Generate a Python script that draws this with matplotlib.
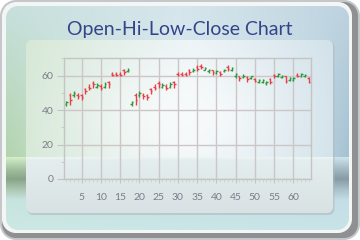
import numpy as np
import matplotlib.pyplot as plt
from matplotlib.ticker import MultipleLocator

# OHLC values
days = list(range(1, 65))
opens = [43.5, 49.0, 48.5, 49.0, 48.5, 52.0, 53.5, 55.5, 53.5, 54.0, 53.5, 56.0, 61.0, 61.0, 61.0, 63.0, 62.5,
         43.5, 49.0, 48.5, 49.0, 48.5, 52.0, 53.5, 55.5, 53.5, 54.0, 53.5, 56.0, 61.0, 61.0, 61.0, 63.0, 62.5,
         65.0, 65.5, 63.5, 62.5, 63.0, 61.5, 62.0, 62.5, 65.0, 63.5, 59.5, 59.5, 59.0, 59.0, 58.5, 58.0,
         56.5, 56.5, 55.5, 58.0, 60.5, 59.5, 59.0, 59.5, 57.5, 57.5, 60.5, 59.5, 59.5, 58.5]
highs = [45.5, 50.0, 51.0, 50.0, 49.5, 53.0, 55.0, 57.0, 55.5, 55.0, 56.0, 57.0, 62.0, 62.0, 62.0, 64.0, 64.5,
         45.5, 50.0, 51.0, 50.0, 49.5, 53.0, 55.0, 57.0, 55.5, 55.0, 56.0, 57.0, 62.0, 62.0, 62.0, 64.0, 64.5,
         66.0, 66.5, 65.0, 64.0, 63.5, 63.0, 62.5, 64.0, 66.0, 65.0, 61.5, 60.0, 61.0, 59.5, 60.0, 58.5,
         58.0, 58.0, 57.0, 58.5, 61.0, 61.5, 60.5, 60.0, 59.0, 59.0, 61.5, 61.5, 61.0, 59.0]
lows = [42.5, 43.0, 47.5, 46.5, 46.0, 49.5, 51.5, 53.0, 52.5, 51.5, 52.5, 53.0, 59.5, 59.5, 59.5, 60.5, 62.0,
        42.5, 43.0, 47.5, 46.5, 46.0, 49.5, 51.5, 53.0, 52.5, 51.5, 52.5, 53.0, 59.5, 59.5, 59.5, 60.5, 62.0,
        62.5, 64.0, 63.0, 61.5, 60.5, 61.0, 59.5, 62.0, 62.5, 62.5, 58.5, 57.0, 58.5, 56.5, 58.0, 56.0,
        55.5, 55.5, 54.5, 55.0, 58.5, 59.0, 58.5, 55.5, 57.0, 57.0, 59.0, 59.0, 59.0, 55.5]
closes = [44.5, 46.0, 50.0, 48.0, 47.5, 51.0, 53.0, 55.0, 54.5, 53.0, 55.0, 55.0, 60.5, 60.5, 60.5, 62.0, 63.5,
          44.5, 46.0, 50.0, 48.0, 47.5, 51.0, 53.0, 55.0, 54.5, 53.0, 55.0, 55.0, 60.5, 60.5, 60.5, 62.0, 63.5,
          64.0, 65.0, 64.5, 63.5, 62.0, 62.5, 61.0, 63.5, 64.0, 64.5, 61.0, 58.5, 60.0, 58.0, 59.5, 57.0,
          57.5, 57.5, 56.5, 56.5, 59.5, 61.0, 60.0, 57.0, 58.5, 58.5, 60.0, 61.0, 60.5, 56.5]

W, H = 360, 240
yy, xx = np.mgrid[0:H, 0:W] + 0.5


def rrect(x0, y0, x1, y1, r):
    cx, cy = (x0 + x1) / 2, (y0 + y1) / 2
    qx = np.abs(xx - cx) - ((x1 - x0) / 2 - r)
    qy = np.abs(yy - cy) - ((y1 - y0) / 2 - r)
    d = np.hypot(np.maximum(qx, 0), np.maximum(qy, 0)) + np.minimum(np.maximum(qx, qy), 0) - r
    return np.clip(0.5 - d, 0, 1)[..., None]


def prof(coord, pts, cols):
    cols = np.array(cols, float) / 255
    return np.stack([np.interp(coord, pts, cols[:, i]) for i in range(3)], axis=-1)


def paint(img, m, col):
    return img * (1 - m) + col * m


# window-like background
img = np.ones((H, W, 3))
img = paint(img, rrect(0, 0, 360, 240, 16), np.array([196, 200, 202]) / 255)
img = paint(img, rrect(2, 2, 358, 238, 14), np.array([142, 144, 146]) / 255)
img = paint(img, rrect(2, 2, 352, 233, 14), np.array([244, 246, 246]) / 255)

top_row = prof(xx, [6, 180, 349], [(200, 224, 222), (214, 230, 236), (190, 212, 224)])
mid_row = prof(xx, [6, 60, 180, 300, 349], [(178, 212, 172), (200, 224, 208), (218, 232, 238),
                                            (200, 220, 230), (165, 194, 210)])
t = np.clip(yy / 157, 0, 1)[..., None]
upper = top_row * (1 - t) + mid_row * t
ys = [157, 160, 170, 179, 190, 200, 230]
left = prof(yy, ys, [(215, 240, 200), (200, 228, 190), (160, 190, 155), (135, 165, 135),
                     (175, 200, 180), (200, 228, 222), (205, 232, 228)])
right = prof(yy, ys, [(205, 228, 240), (195, 218, 230), (160, 182, 195), (135, 155, 165),
                      (170, 195, 205), (195, 222, 230), (200, 228, 232)])
w = (xx / W)[..., None]
lower = left * (1 - w) + right * w
card = np.where((yy >= 157)[..., None], lower, upper)
img = paint(img, rrect(6, 6, 349, 230, 12), card)

# translucent panel behind the plot
img = paint(img, rrect(27, 41, 334.5, 215, 6), np.array([175, 185, 190]) / 255 * 0.6 + img * 0.4)
pedge = prof(xx, [26, 190, 333], [(214, 232, 214), (236, 243, 246), (210, 226, 234)])
glow = (np.exp(-((xx - 185) / 100) ** 2 - ((yy - 115) / 60) ** 2) * 0.8)[..., None]
pup = pedge * (1 - glow) + np.array([250, 252, 252]) / 255 * glow
plow = prof(yy, [157, 160, 213], [(238, 245, 245), (228, 238, 238), (216, 226, 228)])
panel = np.where((yy >= 157)[..., None], plow, pup)
img = paint(img, rrect(26, 40, 333, 213, 6), panel)

fig = plt.figure(figsize=(3.6, 2.4), dpi=100)
fig.figimage(img, 0, 0, origin='upper', zorder=-10)

fig.text(0.5, 1 - 29.5 / 240, 'Open-Hi-Low-Close Chart', ha='center', va='center',
         fontsize=14, color='#34448A', family='Lato', zorder=5)

ax = fig.add_axes([64.3 / 360, 61 / 240, 246.4 / 360, 120.7 / 240])
ax.set_facecolor('none')
ax.set_zorder(5)

x = np.array(days, float)
o, h, l, c = map(np.array, (opens, highs, lows, closes))
cols = np.where(c >= o, '#2E9A3E', '#E8404A')
ax.vlines(x, l, h, colors=cols, lw=1)
ax.hlines(o, x - 0.4, x, colors=cols, lw=1)
ax.hlines(c, x, x + 0.4, colors=cols, lw=1)

ax.set_xlim(0.5, 64.5)
ax.set_ylim(0, 70)
ax.xaxis.set_major_locator(MultipleLocator(5))
ax.xaxis.set_minor_locator(MultipleLocator(1))
ax.set_yticks([0, 20, 40, 60])
ax.yaxis.set_minor_locator(MultipleLocator(10))
ax.grid(True, which='major', color='#CCC6C6', lw=1)
ax.set_axisbelow(True)
for s in ax.spines.values():
    s.set_color('#C4C4C4')
    s.set_linewidth(1)
ax.tick_params(which='major', colors='#C4C4C4', labelcolor='#7C7C8A', labelsize=7.5, width=0.8)
ax.tick_params(axis='y', which='major', length=5, pad=3)
ax.tick_params(axis='y', which='minor', length=2.5, colors='#C4C4C4')
ax.tick_params(axis='x', which='major', length=3, pad=7)
ax.tick_params(axis='x', which='minor', length=2, colors='#D0D0D0')
for lab in ax.get_xticklabels() + ax.get_yticklabels():
    lab.set_family('Lato')

fig.savefig('out.png', dpi=100)
